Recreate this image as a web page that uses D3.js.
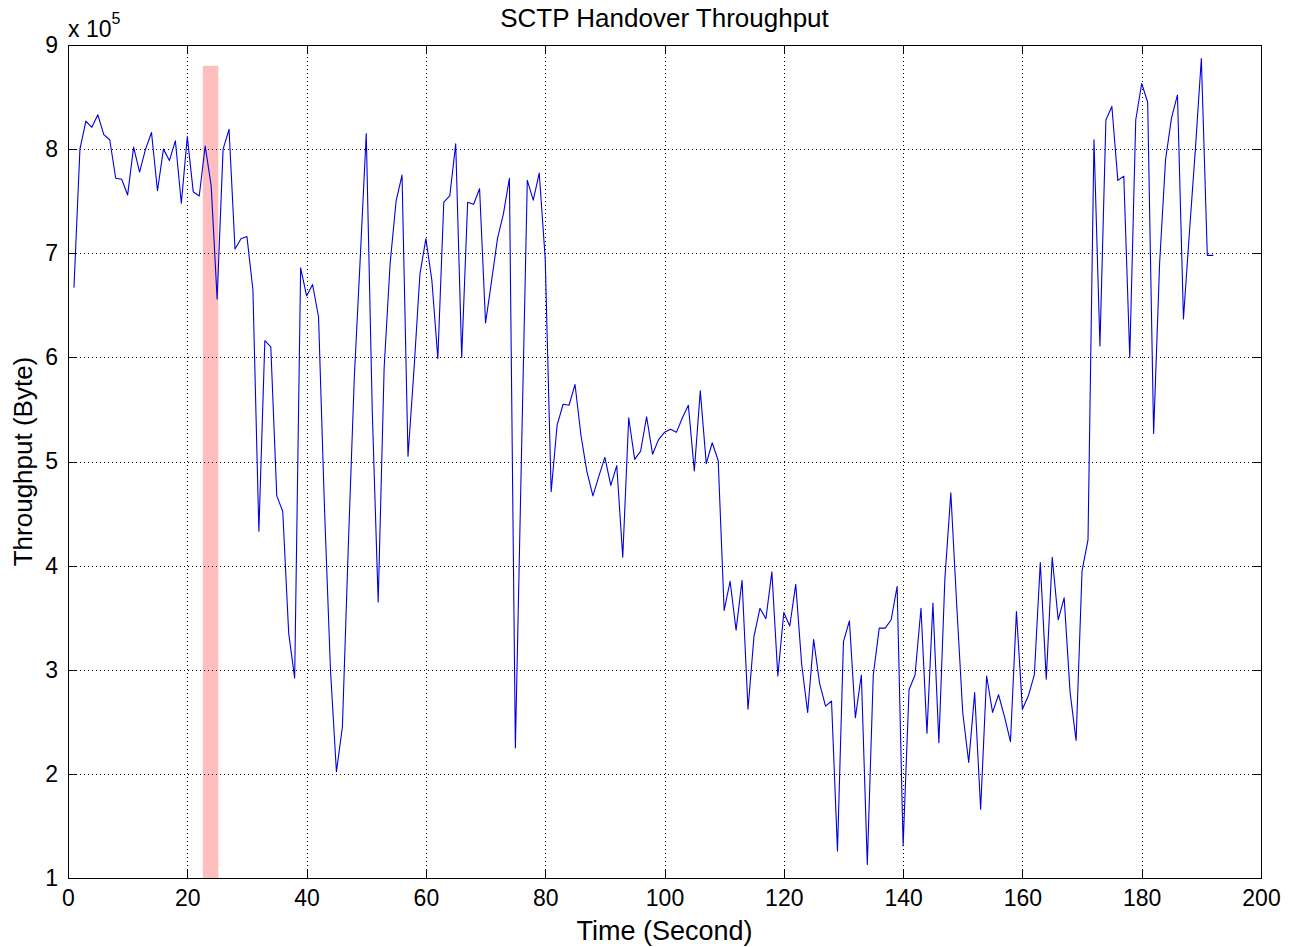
<!DOCTYPE html>
<meta charset="utf-8">
<style>
    body { margin: 0; background: #fff; }
    text { font-family: "Liberation Sans", Arial, sans-serif; fill: #000; }
    .grid line { stroke: #000; stroke-width: 1px; stroke-dasharray: 1,3; shape-rendering: crispEdges; }
    .axis line { stroke: #000; shape-rendering: crispEdges; }
    .axis path { display: none; }
    .axis text { font-size: 23px; }
    .frame { fill: none; stroke: #000; stroke-width: 1px; shape-rendering: crispEdges; }
    .series { fill: none; stroke: #0000e0; stroke-width: 1.1px; stroke-linejoin: round; }
</style>
<body>
<script src="https://d3js.org/d3.v7.min.js"></script>
<script>
// throughput in units of 1e5 bytes, one sample per second starting at t = 1
var firstSecond = 1;
var throughput = [
    6.67, 8.00, 8.27, 8.21, 8.33, 8.14, 8.09, 7.72, 7.71, 7.56,
    8.02, 7.78, 8.00, 8.16, 7.60, 8.00, 7.89, 8.08, 7.48, 8.12,
    7.59, 7.55, 8.03, 7.65, 6.56, 8.00, 8.19, 7.04, 7.14, 7.16,
    6.65, 4.33, 6.16, 6.10, 4.67, 4.52, 3.35, 2.92, 6.86, 6.59,
    6.70, 6.39, 4.55, 3.00, 2.02, 2.45, 4.20, 5.81, 6.96, 8.15,
    5.50, 3.65, 5.90, 6.90, 7.50, 7.75, 5.05, 5.88, 6.80, 7.14,
    6.74, 5.99, 7.49, 7.55, 8.05, 6.00, 7.49, 7.47, 7.62, 6.33,
    6.73, 7.14, 7.38, 7.72, 2.25, 5.00, 7.70, 7.51, 7.77, 6.95,
    4.71, 5.35, 5.55, 5.54, 5.74, 5.25, 4.90, 4.67, 4.86, 5.04,
    4.77, 4.96, 4.08, 5.42, 5.02, 5.10, 5.43, 5.07, 5.21, 5.28,
    5.31, 5.28, 5.42, 5.54, 4.91, 5.68, 4.98, 5.18, 5.01, 3.57,
    3.85, 3.38, 3.86, 2.62, 3.32, 3.59, 3.49, 3.94, 2.94, 3.55,
    3.42, 3.82, 3.05, 2.59, 3.29, 2.87, 2.65, 2.70, 1.26, 3.27,
    3.47, 2.54, 2.95, 1.13, 2.95, 3.40, 3.40, 3.48, 3.80, 1.31,
    2.81, 2.95, 3.59, 2.39, 3.64, 2.30, 3.87, 4.70, 3.61, 2.59,
    2.11, 2.78, 1.66, 2.94, 2.59, 2.76, 2.55, 2.31, 3.56, 2.62,
    2.75, 2.95, 4.03, 2.91, 4.08, 3.48, 3.69, 2.78, 2.32, 3.95,
    4.25, 8.09, 6.11, 8.28, 8.41, 7.70, 7.74, 6.00, 8.28, 8.63,
    8.45, 5.27, 6.90, 7.90, 8.30, 8.52, 6.37, 7.20, 8.00, 8.87,
    6.98, 6.98
];

// handover window (seconds) and its height (1e5 bytes)
var handoverStart = 22.6;
var handoverEnd = 25.2;
var handoverTop = 8.8;

var xTicks = [0, 20, 40, 60, 80, 100, 120, 140, 160, 180, 200];
var yTicks = [1, 2, 3, 4, 5, 6, 7, 8, 9];

var plotLeft = 68, plotRight = 1261, plotTop = 45, plotBottom = 878;

var svg = d3.select("body").append("svg")
    .attr("width", 1299)
    .attr("height", 947);

var x = d3.scaleLinear().domain([0, 200]).range([plotLeft, plotRight]);
var y = d3.scaleLinear().domain([1, 9]).range([plotBottom, plotTop]);

// handover shading
svg.append("rect")
    .attr("x", x(handoverStart))
    .attr("y", y(handoverTop))
    .attr("width", x(handoverEnd) - x(handoverStart))
    .attr("height", y(1) - y(handoverTop))
    .attr("fill", "#ffbebe");

// dotted grid
var grid = svg.append("g").attr("class", "grid");
grid.selectAll(".gx")
    .data(xTicks.slice(1, -1))
    .enter().append("line")
      .attr("x1", function(d) { return Math.round(x(d)) + 0.5; })
      .attr("x2", function(d) { return Math.round(x(d)) + 0.5; })
      .attr("y1", plotTop)
      .attr("y2", plotBottom);
grid.selectAll(".gy")
    .data(yTicks.slice(1, -1))
    .enter().append("line")
      .attr("y1", function(d) { return Math.round(y(d)) + 0.5; })
      .attr("y2", function(d) { return Math.round(y(d)) + 0.5; })
      .attr("x1", plotLeft)
      .attr("x2", plotRight);

// throughput line
var line = d3.line()
    .x(function(d, i) { return x(firstSecond + i); })
    .y(function(d) { return y(d); });

svg.append("path")
    .datum(throughput)
    .attr("class", "series")
    .attr("d", line);

// axes, ticks pointing inward like matlab
svg.append("g")
    .attr("class", "axis")
    .attr("transform", "translate(0," + plotBottom + ")")
    .call(d3.axisBottom(x).tickValues(xTicks).tickSize(-8).tickPadding(12).tickFormat(d3.format("d")));
svg.append("g")
    .attr("class", "axis")
    .attr("transform", "translate(0," + plotTop + ")")
    .call(d3.axisTop(x).tickValues(xTicks).tickSize(-8).tickFormat(""));
svg.append("g")
    .attr("class", "axis")
    .attr("transform", "translate(" + plotLeft + ",0)")
    .call(d3.axisLeft(y).tickValues(yTicks).tickSize(-8).tickPadding(10).tickFormat(d3.format("d")));
svg.append("g")
    .attr("class", "axis")
    .attr("transform", "translate(" + plotRight + ",0)")
    .call(d3.axisRight(y).tickValues(yTicks).tickSize(-8).tickFormat(""));

svg.append("rect")
    .attr("class", "frame")
    .attr("x", plotLeft + 0.5)
    .attr("y", plotTop + 0.5)
    .attr("width", plotRight - plotLeft)
    .attr("height", plotBottom - plotTop);

// exponent label
var expo = svg.append("text")
    .attr("x", plotLeft)
    .attr("y", 37)
    .style("font-size", "23px");
expo.append("tspan").text("x 10");
expo.append("tspan")
    .attr("dy", -13)
    .style("font-size", "16px")
    .text("5");

svg.append("text")
    .attr("x", (plotLeft + plotRight) / 2)
    .attr("y", 27)
    .attr("text-anchor", "middle")
    .style("font-size", "26px")
    .text("SCTP Handover Throughput");

svg.append("text")
    .attr("x", (plotLeft + plotRight) / 2)
    .attr("y", 940)
    .attr("text-anchor", "middle")
    .style("font-size", "27px")
    .text("Time (Second)");

svg.append("text")
    .attr("transform", "translate(32," + (plotTop + plotBottom) / 2 + ") rotate(-90)")
    .attr("text-anchor", "middle")
    .style("font-size", "26px")
    .text("Throughput (Byte)");
</script>
</body>
